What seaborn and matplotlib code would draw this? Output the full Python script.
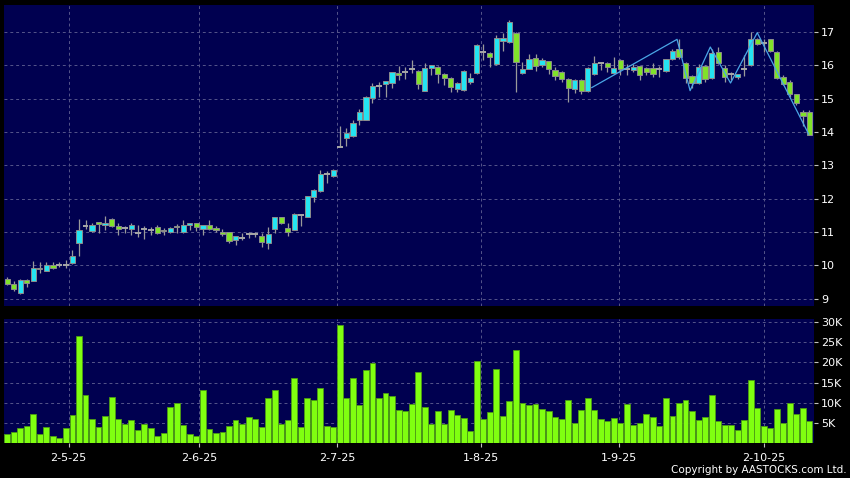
import matplotlib
matplotlib.use('Agg')
import matplotlib.pyplot as plt
import seaborn as sns
import numpy as np
import pandas as pd

# daily OHLC
opens = [9.60, 9.45, 9.17, 9.56, 9.54, 9.93, 9.84, 10.02, 10.02, 10.02,
         10.07, 10.67, 11.18, 11.03, 11.30, 11.20, 11.40, 11.18, 11.12, 11.10,
         10.97, 11.09, 11.06, 11.16, 11.07, 11.00, 11.18, 10.99, 11.20, 11.26,
         11.10, 11.20, 11.12, 11.00, 10.99, 10.75, 10.81, 10.95, 10.93, 10.89,
         10.68, 11.10, 11.44, 11.11, 11.07, 11.50, 11.46, 12.06, 12.24, 12.74,
         12.67, 13.55, 13.82, 13.87, 14.37, 14.37, 15.01, 15.38, 15.44, 15.46,
         15.76, 15.79, 15.88, 15.83, 15.24, 15.93, 15.96, 15.73, 15.61, 15.29,
         15.26, 15.49, 15.76, 16.40, 16.37, 16.04, 16.74, 16.69, 16.97, 15.77,
         15.90, 16.21, 16.00, 16.12, 15.87, 15.80, 15.60, 15.28, 15.57, 15.23,
         15.73, 16.07, 16.07, 15.77, 16.16, 15.90, 15.87, 15.97, 15.93, 15.91,
         15.88, 15.84, 16.18, 16.50, 16.08, 15.68, 15.46, 15.99, 15.61, 16.40,
         15.91, 15.73, 15.65, 15.88, 16.01, 16.78, 16.67, 16.78, 16.40, 15.64,
         15.49, 15.13, 14.60, 14.60]
highs = [9.65, 9.52, 9.60, 9.60, 10.14, 10.09, 10.10, 10.10, 10.10, 10.15,
         10.45, 11.38, 11.35, 11.28, 11.30, 11.47, 11.42, 11.28, 11.18, 11.28,
         11.22, 11.17, 11.14, 11.20, 11.13, 11.15, 11.24, 11.36, 11.28, 11.28,
         11.22, 11.36, 11.18, 11.08, 11.00, 10.88, 10.96, 11.00, 11.00, 10.96,
         11.14, 11.44, 11.46, 11.26, 11.58, 11.52, 12.08, 12.28, 12.86, 12.83,
         12.90, 14.19, 14.12, 14.37, 14.69, 15.08, 15.48, 15.51, 15.54, 15.79,
         15.98, 15.96, 16.16, 15.85, 16.08, 16.00, 15.98, 15.76, 15.66, 15.49,
         15.86, 15.76, 16.65, 16.65, 16.40, 16.91, 16.96, 17.36, 16.99, 16.10,
         16.34, 16.34, 16.22, 16.14, 15.95, 15.82, 15.62, 15.60, 15.59, 15.95,
         16.29, 16.09, 16.09, 16.24, 16.18, 16.04, 16.05, 15.99, 15.95, 16.06,
         15.99, 16.20, 16.48, 16.78, 16.10, 15.70, 16.05, 16.01, 16.50, 16.55,
         16.02, 15.80, 15.75, 16.30, 17.00, 16.83, 16.80, 16.80, 16.42, 15.70,
         15.55, 15.15, 14.65, 14.67]
lows = [9.40, 9.22, 9.15, 9.35, 9.52, 9.78, 9.82, 9.90, 9.95, 9.92,
        10.05, 10.28, 11.08, 11.00, 10.98, 11.05, 11.15, 10.90, 10.98, 10.92,
        10.85, 10.79, 10.90, 10.95, 10.92, 10.98, 10.98, 10.98, 11.05, 11.02,
        10.91, 11.06, 11.00, 10.88, 10.68, 10.61, 10.76, 10.81, 10.84, 10.56,
        10.50, 10.98, 11.24, 10.88, 11.05, 11.18, 11.45, 11.90, 12.20, 12.47,
        12.65, 13.55, 13.57, 13.85, 14.22, 14.35, 14.88, 15.06, 15.06, 15.31,
        15.56, 15.60, 15.76, 15.28, 15.22, 15.71, 15.48, 15.41, 15.21, 15.21,
        15.24, 15.43, 15.74, 16.16, 15.96, 16.02, 16.44, 16.67, 15.20, 15.75,
        15.88, 15.83, 15.95, 15.73, 15.55, 15.50, 14.90, 15.17, 15.15, 15.21,
        15.71, 15.85, 15.80, 15.75, 15.70, 15.70, 15.80, 15.55, 15.70, 15.66,
        15.66, 15.79, 16.16, 16.20, 15.46, 15.31, 15.44, 15.51, 15.59, 16.04,
        15.51, 15.56, 15.60, 15.69, 15.99, 16.60, 16.40, 16.40, 15.60, 15.40,
        15.05, 14.80, 14.17, 13.92]
closes = [9.44, 9.29, 9.56, 9.48, 9.93, 9.88, 10.02, 9.93, 10.02, 10.02,
          10.29, 11.05, 11.18, 11.22, 11.24, 11.27, 11.18, 11.10, 11.12, 11.22,
          10.97, 11.09, 11.06, 10.98, 11.02, 11.13, 11.15, 11.20, 11.26, 11.14,
          11.20, 11.10, 11.05, 10.94, 10.74, 10.87, 10.81, 10.95, 10.93, 10.70,
          10.93, 11.44, 11.26, 10.99, 11.54, 11.50, 12.07, 12.26, 12.74, 12.74,
          12.87, 13.55, 13.97, 14.27, 14.61, 15.06, 15.39, 15.38, 15.54, 15.79,
          15.71, 15.79, 15.88, 15.43, 15.91, 16.00, 15.73, 15.63, 15.36, 15.47,
          15.84, 15.61, 16.60, 16.40, 16.26, 16.81, 16.81, 17.29, 16.09, 15.90,
          16.19, 15.98, 16.16, 15.90, 15.68, 15.60, 15.32, 15.57, 15.23, 15.93,
          16.07, 16.07, 15.95, 15.93, 15.90, 15.90, 15.95, 15.70, 15.80, 15.73,
          15.88, 16.18, 16.43, 16.26, 15.63, 15.46, 15.96, 15.59, 16.37, 16.06,
          15.64, 15.73, 15.73, 15.88, 16.80, 16.65, 16.67, 16.42, 15.63, 15.43,
          15.13, 14.86, 14.49, 13.92]
# volume in thousands
volumes_k = [2.3, 2.8, 3.7, 4.2, 7.2, 2.4, 3.9, 1.8, 1.3, 3.7,
             7.0, 26.4, 11.9, 6.0, 4.0, 6.7, 11.5, 5.9, 4.8, 5.7,
             3.2, 4.8, 3.8, 1.7, 2.5, 8.9, 10.0, 4.4, 2.3, 1.8,
             13.1, 3.5, 2.6, 2.8, 4.3, 5.7, 4.8, 6.5, 5.9, 3.9,
             11.1, 13.1, 4.8, 5.8, 16.2, 3.9, 11.2, 10.8, 13.6, 4.3,
             4.0, 29.2, 11.1, 16.2, 9.4, 18.1, 19.9, 11.3, 12.4, 11.6,
             8.2, 8.0, 9.8, 17.6, 9.0, 4.8, 7.9, 4.8, 8.1, 7.0,
             6.3, 3.1, 20.2, 6.0, 7.6, 18.3, 6.7, 10.4, 22.9, 9.9,
             9.4, 9.6, 8.5, 7.9, 6.6, 5.9, 10.7, 5.0, 8.1, 11.1,
             8.2, 6.1, 5.5, 6.2, 5.0, 9.8, 4.4, 4.9, 7.2, 6.4,
             4.3, 11.3, 6.7, 9.9, 10.7, 7.9, 5.8, 6.5, 11.8, 5.5,
             4.5, 4.4, 3.2, 5.8, 15.5, 8.8, 4.3, 3.8, 8.4, 5.1,
             9.9, 7.2, 8.7, 5.4]

month_labels = ['2-5-25', '2-6-25', '2-7-25', '1-8-25', '1-9-25', '2-10-25']
month_pos = [9.4, 29.4, 50.6, 72.6, 93.8, 116.0]

# zigzag overlay (bar index, price)
zigzag_idx = [89.6, 102.7, 104.7, 107.8, 110.9, 115.0, 122.9]
zigzag_val = [15.33, 16.78, 15.24, 16.55, 15.47, 16.98, 13.93]

price_ticks = [9, 10, 11, 12, 13, 14, 15, 16, 17]
vol_ticks = [5, 10, 15, 20, 25, 30]
vol_tick_labels = ['5K', '10K', '15K', '20K', '25K', '30K']

NAVY = '#000050'
GRID = '#55558a'
UP = '#24e4f2'
DOWN = '#80e22a'
WICK = '#9a9a9a'

sns.set_theme(style='dark')
plt.rcParams['font.family'] = ['DejaVu Sans']

df = pd.DataFrame({'o': opens, 'h': highs, 'l': lows, 'c': closes, 'vol': volumes_k})
df['idx'] = np.arange(len(df))

fig = plt.figure(figsize=(8.5, 4.78), dpi=100, facecolor='black')
ax_p = fig.add_axes([4 / 850, 1 - 306 / 478, 810 / 850, 301 / 478])
ax_v = fig.add_axes([4 / 850, 1 - 443.3 / 478, 810 / 850, 124.3 / 478])

for ax in (ax_p, ax_v):
    ax.set_facecolor(NAVY)
    for s in ax.spines.values():
        s.set_visible(False)

# --- candles
ax_p.vlines(df['idx'], df['l'], df['h'], color=WICK, lw=0.9, zorder=2)
body = df[df['o'] != df['c']]
cols = np.where(body['c'] > body['o'], UP, DOWN)
ax_p.bar(body['idx'], (body['c'] - body['o']).abs(), bottom=body[['o', 'c']].min(axis=1),
         width=0.8, color=cols, edgecolor='#8c8c8c', linewidth=0.7, zorder=3)
doji = df[df['o'] == df['c']]
ax_p.hlines(doji['o'], doji['idx'] - 0.45, doji['idx'] + 0.45, color='#a8a8a8', lw=1.4, zorder=3)

sns.lineplot(x=zigzag_idx, y=zigzag_val, ax=ax_p, color='#4aa6e6', lw=0.9, zorder=4)

ax_p.set_xlim(-0.5, 123.7)
ax_p.set_ylim(8.78, 17.81)
ax_p.yaxis.tick_right()
ax_p.set_yticks(price_ticks)
ax_p.set_xticks(month_pos)
ax_p.set_xticklabels([])
ax_p.tick_params(axis='x', length=0)
ax_p.tick_params(axis='y', length=3, width=0.8, color='#c0c0c0', labelcolor='white',
                 labelsize=8, pad=2)

# --- volume
sns.barplot(data=df, x='idx', y='vol', native_scale=True, ax=ax_v, color='#80ff10',
            saturation=1, width=0.9, edgecolor='#4c9c14', linewidth=0.6, errorbar=None)
ax_v.set_xlim(-0.5, 123.7)
ax_v.set_ylim(0, 30.67)
ax_v.yaxis.tick_right()
ax_v.set_yticks(vol_ticks)
ax_v.set_yticklabels(vol_tick_labels)
ax_v.set_xticks(month_pos)
ax_v.set_xticklabels(month_labels)
ax_v.set_xlabel('')
ax_v.set_ylabel('')
ax_v.tick_params(axis='y', length=3, width=0.8, color='#c0c0c0', labelcolor='white',
                 labelsize=8, pad=2)
ax_v.tick_params(axis='x', length=3, width=0.8, color='#c0c0c0', labelcolor='white',
                 labelsize=8, pad=4, bottom=True)

for ax in (ax_p, ax_v):
    ax.grid(True, color=GRID, lw=0.7, ls=(0, (3, 3)))
    ax.set_axisbelow(True)

fig.text(0.996, 0.006, 'Copyright by AASTOCKS.com Ltd.', ha='right', va='bottom',
         color='white', fontsize=7.5)

fig.savefig('out.png', dpi=100, facecolor='black')
